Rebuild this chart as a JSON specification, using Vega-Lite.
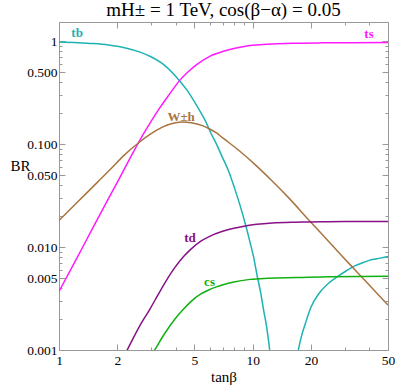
{
  "$schema": "https://vega.github.io/schema/vega-lite/v6.json",
  "width": 329,
  "height": 328,
  "autosize": {"type": "none"},
  "padding": {"left": 59, "top": 22, "right": 7, "bottom": 37},
  "background": "white",
  "title": {"text": "mH± = 1 TeV, cos(β−α) = 0.05", "font": "Liberation Serif", "fontSize": 19, "fontWeight": "normal", "color": "black", "baseline": "alphabetic", "offset": 5, "dy": 18, "anchor": "middle", "frame": "group"},
  "config": {
    "view": {"stroke": null},
    "axis": {
      "domainColor": "#999999", "domainWidth": 1, "tickColor": "#999999", "tickWidth": 1,
      "labelFont": "Liberation Serif", "labelFontSize": 13.5, "labelColor": "black",
      "titleFont": "Liberation Serif", "titleFontSize": 15, "titleFontWeight": "normal", "titleColor": "black",
      "grid": false, "labelOverlap": false, "labelFlush": false, "labelBound": false
    },
    "text": {"font": "Liberation Serif"}
  },
  "datasets": {
    "curves": [
      {"s":"tb","g":1,"t":1,"v":0.978},{"s":"tb","g":1,"t":1.25,"v":0.964},{"s":"tb","g":1,"t":1.5,"v":0.946},{"s":"tb","g":1,"t":1.8,"v":0.916},{"s":"tb","g":1,"t":2.18,"v":0.862},{"s":"tb","g":1,"t":2.6,"v":0.784},{"s":"tb","g":1,"t":3.0,"v":0.70},{"s":"tb","g":1,"t":3.5,"v":0.584},{"s":"tb","g":1,"t":4.2,"v":0.41},{"s":"tb","g":1,"t":4.6,"v":0.33},{"s":"tb","g":1,"t":5.2,"v":0.228},{"s":"tb","g":1,"t":5.7,"v":0.168},{"s":"tb","g":1,"t":6.12,"v":0.125},{"s":"tb","g":1,"t":6.55,"v":0.097},{"s":"tb","g":1,"t":6.95,"v":0.0755},{"s":"tb","g":1,"t":7.5,"v":0.055},{"s":"tb","g":1,"t":8.0,"v":0.039},{"s":"tb","g":1,"t":8.6,"v":0.0255},{"s":"tb","g":1,"t":9.17,"v":0.0167},{"s":"tb","g":1,"t":9.73,"v":0.0108},{"s":"tb","g":1,"t":10.1,"v":0.0081},{"s":"tb","g":1,"t":10.54,"v":0.0053},{"s":"tb","g":1,"t":11.0,"v":0.0036},{"s":"tb","g":1,"t":11.41,"v":0.0024},{"s":"tb","g":1,"t":11.8,"v":0.0017},{"s":"tb","g":1,"t":12.25,"v":0.001},{"s":"tb","g":1,"t":12.7,"v":0.00053},{"s":"tb","g":1,"t":13.2,"v":0.00021},{"s":"tb","g":1,"t":13.8,"v":0.00003},
      {"s":"tb","g":2,"t":14.5,"v":0.000016},{"s":"tb","g":2,"t":15.0,"v":0.0001},{"s":"tb","g":2,"t":15.4,"v":0.000215},{"s":"tb","g":2,"t":16.0,"v":0.00043},{"s":"tb","g":2,"t":16.5,"v":0.00064},{"s":"tb","g":2,"t":17.16,"v":0.00097},{"s":"tb","g":2,"t":17.9,"v":0.00138},{"s":"tb","g":2,"t":18.7,"v":0.0018},{"s":"tb","g":2,"t":20.0,"v":0.0026},{"s":"tb","g":2,"t":21.9,"v":0.0035},{"s":"tb","g":2,"t":24.5,"v":0.0044},{"s":"tb","g":2,"t":27.3,"v":0.00512},{"s":"tb","g":2,"t":30.5,"v":0.00588},{"s":"tb","g":2,"t":33.9,"v":0.0066},{"s":"tb","g":2,"t":37.5,"v":0.0071},{"s":"tb","g":2,"t":41.4,"v":0.00755},{"s":"tb","g":2,"t":45.5,"v":0.0078},{"s":"tb","g":2,"t":50,"v":0.0081},
      {"s":"ts","g":1,"t":1,"v":0.0037},{"s":"ts","g":1,"t":1.2,"v":0.0070},{"s":"ts","g":1,"t":1.5,"v":0.0155},{"s":"ts","g":1,"t":1.8,"v":0.0295},{"s":"ts","g":1,"t":2.1,"v":0.0505},{"s":"ts","g":1,"t":2.4,"v":0.081},{"s":"ts","g":1,"t":2.72,"v":0.124},{"s":"ts","g":1,"t":3.0,"v":0.168},{"s":"ts","g":1,"t":3.3,"v":0.222},{"s":"ts","g":1,"t":3.6,"v":0.28},{"s":"ts","g":1,"t":3.9,"v":0.345},{"s":"ts","g":1,"t":4.2,"v":0.415},{"s":"ts","g":1,"t":4.6,"v":0.495},{"s":"ts","g":1,"t":5.2,"v":0.60},{"s":"ts","g":1,"t":6.0,"v":0.71},{"s":"ts","g":1,"t":7.0,"v":0.79},{"s":"ts","g":1,"t":8.0,"v":0.845},{"s":"ts","g":1,"t":9.17,"v":0.89},{"s":"ts","g":1,"t":10.5,"v":0.915},{"s":"ts","g":1,"t":12.6,"v":0.935},{"s":"ts","g":1,"t":16,"v":0.95},{"s":"ts","g":1,"t":22.8,"v":0.96},{"s":"ts","g":1,"t":32,"v":0.964},{"s":"ts","g":1,"t":50,"v":0.966},
      {"s":"Wh","g":1,"t":1,"v":0.0181},{"s":"Wh","g":1,"t":1.25,"v":0.0275},{"s":"Wh","g":1,"t":1.5,"v":0.0386},{"s":"Wh","g":1,"t":1.8,"v":0.0543},{"s":"Wh","g":1,"t":2.18,"v":0.0785},{"s":"Wh","g":1,"t":2.56,"v":0.1018},{"s":"Wh","g":1,"t":2.95,"v":0.124},{"s":"Wh","g":1,"t":3.4,"v":0.145},{"s":"Wh","g":1,"t":3.8,"v":0.157},{"s":"Wh","g":1,"t":4.3,"v":0.164},{"s":"Wh","g":1,"t":4.9,"v":0.160},{"s":"Wh","g":1,"t":5.5,"v":0.151},{"s":"Wh","g":1,"t":6.0,"v":0.140},{"s":"Wh","g":1,"t":6.5,"v":0.128},{"s":"Wh","g":1,"t":6.95,"v":0.116},{"s":"Wh","g":1,"t":7.5,"v":0.104},{"s":"Wh","g":1,"t":8.5,"v":0.0865},{"s":"Wh","g":1,"t":10.33,"v":0.0628},{"s":"Wh","g":1,"t":12.5,"v":0.0445},{"s":"Wh","g":1,"t":15.36,"v":0.0300},{"s":"Wh","g":1,"t":19.5,"v":0.0183},{"s":"Wh","g":1,"t":24.7,"v":0.0113},{"s":"Wh","g":1,"t":29,"v":0.00815},{"s":"Wh","g":1,"t":33.9,"v":0.00596},{"s":"Wh","g":1,"t":40,"v":0.00428},{"s":"Wh","g":1,"t":50,"v":0.00273},
      {"s":"td","g":1,"t":2.0,"v":0.00065},{"s":"td","g":1,"t":2.25,"v":0.001},{"s":"td","g":1,"t":2.66,"v":0.00182},{"s":"td","g":1,"t":2.95,"v":0.0025},{"s":"td","g":1,"t":3.25,"v":0.00345},{"s":"td","g":1,"t":3.6,"v":0.0048},{"s":"td","g":1,"t":3.96,"v":0.0063},{"s":"td","g":1,"t":4.4,"v":0.0081},{"s":"td","g":1,"t":4.82,"v":0.0096},{"s":"td","g":1,"t":5.4,"v":0.0114},{"s":"td","g":1,"t":6.0,"v":0.0127},{"s":"td","g":1,"t":7.0,"v":0.0142},{"s":"td","g":1,"t":8.0,"v":0.0152},{"s":"td","g":1,"t":9.17,"v":0.0160},{"s":"td","g":1,"t":10.5,"v":0.0166},{"s":"td","g":1,"t":12.6,"v":0.0171},{"s":"td","g":1,"t":16,"v":0.0174},{"s":"td","g":1,"t":19.5,"v":0.0175},{"s":"td","g":1,"t":30,"v":0.0177},{"s":"td","g":1,"t":50,"v":0.0177},
      {"s":"cs","g":1,"t":2.8,"v":0.00072},{"s":"cs","g":1,"t":3.12,"v":0.001},{"s":"cs","g":1,"t":3.5,"v":0.00143},{"s":"cs","g":1,"t":3.97,"v":0.0020},{"s":"cs","g":1,"t":4.4,"v":0.0025},{"s":"cs","g":1,"t":4.8,"v":0.00295},{"s":"cs","g":1,"t":5.4,"v":0.0035},{"s":"cs","g":1,"t":5.89,"v":0.0038},{"s":"cs","g":1,"t":6.5,"v":0.0041},{"s":"cs","g":1,"t":7.03,"v":0.0043},{"s":"cs","g":1,"t":8.0,"v":0.00458},{"s":"cs","g":1,"t":9.7,"v":0.00485},{"s":"cs","g":1,"t":12,"v":0.00497},{"s":"cs","g":1,"t":16.9,"v":0.00505},{"s":"cs","g":1,"t":25,"v":0.00515},{"s":"cs","g":1,"t":50,"v":0.0052}
    ],
    "labels": [
      {"s":"tb","t":1.24,"v":1.19,"label":"tb"},
      {"s":"ts","t":39.9,"v":1.16,"label":"ts"},
      {"s":"Wh","t":4.27,"v":0.182,"label":"W±h"},
      {"s":"td","t":4.75,"v":0.0121,"label":"td"},
      {"s":"cs","t":5.99,"v":0.00457,"label":"cs"}
    ]
  },
  "layer": [
    {
      "data": {"name": "curves"},
      "mark": {"type": "line", "clip": true, "strokeWidth": 1.5, "interpolate": "monotone"},
      "encoding": {
        "x": {"field": "t", "type": "quantitative",
          "scale": {"type": "log", "domain": [1, 50], "nice": false},
          "axis": {"orient": "bottom", "title": "tanβ", "titleBaseline": "alphabetic", "titleY": 31,
            "values": [1,2,3,4,5,6,7,8,9,10,20,30,40,50],
            "labelExpr": "indexof([1,2,5,10,20,50], datum.value) >= 0 ? format(datum.value, 'd') : ''",
            "tickSize": {"condition": {"test": "indexof([1,2,5,10,20,50], datum.value) >= 0", "value": -6}, "value": -3},
            "labelPadding": 9}},
        "y": {"field": "v", "type": "quantitative",
          "scale": {"type": "log", "domain": [0.001, 1.53], "nice": false},
          "axis": {"orient": "left", "title": "BR", "titleAngle": 0, "titleX": -39, "titleY": 143, "titleAlign": "center", "titleBaseline": "middle",
            "values": [0.001,0.002,0.003,0.004,0.005,0.006,0.007,0.008,0.009,0.01,0.02,0.03,0.04,0.05,0.06,0.07,0.08,0.09,0.1,0.2,0.3,0.4,0.5,0.6,0.7,0.8,0.9,1],
            "labelExpr": "datum.value == 1 ? '1' : (indexof([0.001,0.005,0.01,0.05,0.1,0.5], datum.value) >= 0 ? format(datum.value, '.3f') : '')",
            "tickSize": {"condition": {"test": "indexof([0.001,0.005,0.01,0.05,0.1,0.5,1], datum.value) >= 0", "value": -6}, "value": -3},
            "labelPadding": 8}},
        "color": {"field": "s", "type": "nominal", "legend": null,
          "scale": {"domain": ["tb","ts","Wh","td","cs"], "range": ["#1db3b3","#ff1aff","#a8743f","#881188","#11b011"]}},
        "detail": {"field": "g", "type": "nominal"}
      }
    },
    {
      "data": {"name": "labels"},
      "mark": {"type": "text", "fontWeight": "bold", "fontSize": 13, "align": "center", "baseline": "middle"},
      "encoding": {
        "x": {"field": "t", "type": "quantitative",
          "scale": {"type": "log", "domain": [1, 50], "nice": false},
          "axis": {"orient": "top", "labels": false, "title": null, "minExtent": 0, "maxExtent": 0,
            "values": [1,2,3,4,5,6,7,8,9,10,20,30,40,50],
            "tickSize": {"condition": {"test": "indexof([1,2,5,10,20,50], datum.value) >= 0", "value": -6}, "value": -3}}},
        "y": {"field": "v", "type": "quantitative",
          "scale": {"type": "log", "domain": [0.001, 1.53], "nice": false},
          "axis": {"orient": "right", "labels": false, "title": null,
            "values": [0.001,0.002,0.003,0.004,0.005,0.006,0.007,0.008,0.009,0.01,0.02,0.03,0.04,0.05,0.06,0.07,0.08,0.09,0.1,0.2,0.3,0.4,0.5,0.6,0.7,0.8,0.9,1],
            "tickSize": {"condition": {"test": "indexof([0.001,0.005,0.01,0.05,0.1,0.5,1], datum.value) >= 0", "value": -6}, "value": -3}}},
        "text": {"field": "label", "type": "nominal"},
        "color": {"field": "s", "type": "nominal", "legend": null}
      }
    }
  ],
  "resolve": {"axis": {"x": "independent", "y": "independent"}}
}
